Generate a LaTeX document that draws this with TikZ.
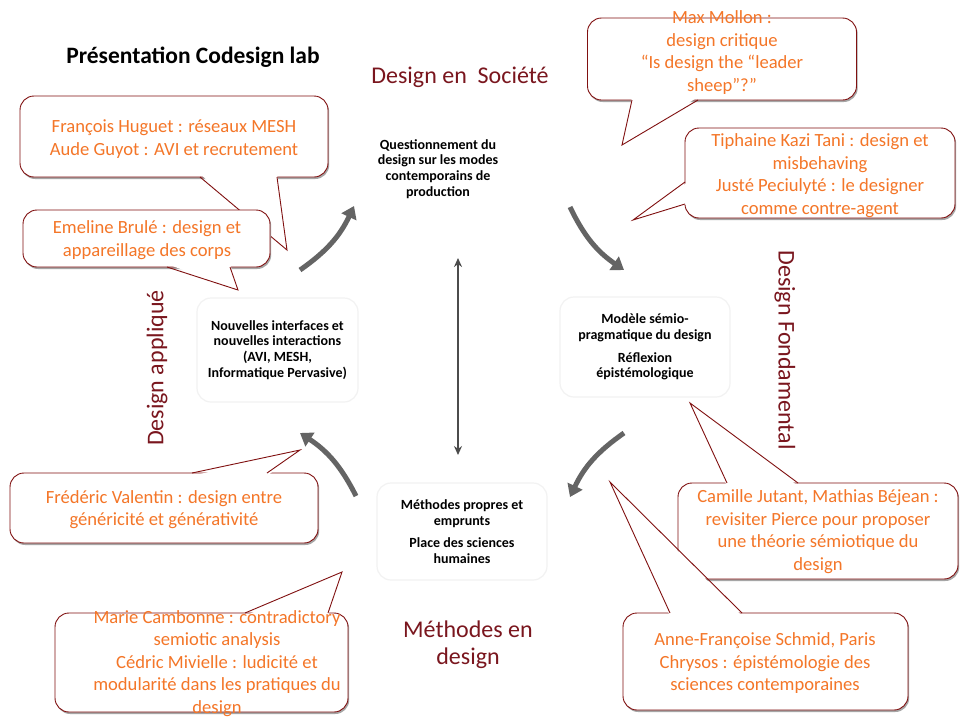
\documentclass[tikz,border=0pt]{standalone}
\usepackage{fontspec}
\setmainfont{Carlito}
\usetikzlibrary{arrows.meta,calc,positioning,shadows}
\definecolor{BubbleRed}{RGB}{128,16,16}
\definecolor{NoteOrange}{RGB}{244,118,40}
\definecolor{AxisRed}{RGB}{122,22,30}
\definecolor{CycleGray}{RGB}{100,100,100}
\tikzset{
  bubble/.style={draw=BubbleRed,fill=white,line width=.9pt,rounded corners=14pt,inner sep=0pt,
    drop shadow={shadow xshift=1.2pt,shadow yshift=-2pt,fill=gray!70,opacity=1}},
  bubbleline/.style={draw=BubbleRed,line width=.9pt,line join=miter},
  note/.style={text=NoteOrange,align=center,font=\fontsize{18.6}{22.5}\selectfont,inner sep=0pt},
  theme/.style={align=center,font=\fontsize{14}{15.7}\selectfont\bfseries,inner sep=0pt},
  themebox/.style={theme,draw=gray!10,line width=1.2pt,rounded corners=14pt},
  axislabel/.style={text=AxisRed,font=\fontsize{24}{27}\selectfont,inner sep=0pt,align=center},
  cyclearrow/.style={-{Triangle[length=12pt,width=16pt]},line width=5pt,CycleGray},
}
% tail of a bubble: base A, tip, base B, inward shift
\newcommand{\tail}[4]{\fill[white] ($#1+#4$) -- #2 -- ($#3+#4$) -- cycle; \draw[bubbleline] #1 -- #2 -- #3;}
\begin{document}
\begin{tikzpicture}[x=1pt,y=-1pt]
\fill[white] (0,0) rectangle (961,716); \useasboundingbox (0,0) rectangle (961,716);
\node[font=\fontsize{23.5}{26}\selectfont\bfseries] (title) at (193,57) {Présentation Codesign lab};
\node[axislabel] (societe) at (460,77) {Design en\ \ Société};
\node[axislabel,rotate=-90] (fondamental) at (785,350) {Design Fondamental};
\node[axislabel,rotate=90] (applique) at (157,368) {Design appliqué};
\node[axislabel] (methodesaxe) at (468,645) {Méthodes en\\design};

% themes
\node[theme] (question) at (438,169) {Questionnement du\\design sur les modes\\contemporains de\\production};
\node[themebox,minimum width=161,minimum height=104] (interfaces) at (277.5,350) {Nouvelles interfaces et\\nouvelles interactions\\(AVI, MESH,\\Informatique Pervasive)};
\node[themebox,minimum width=170,minimum height=100] (modele) at (645,347) {Modèle sémio-\\pragmatique du design\\[7pt]Réflexion\\épistémologique};
\node[themebox,minimum width=170,minimum height=97] (methodes) at (462,531.5) {Méthodes propres et\\emprunts\\[7pt]Place des sciences\\humaines};

% cycle
\coordinate (c1) at (300,270); \coordinate (c2) at (354,206);
\coordinate (c3) at (570,207); \coordinate (c4) at (624,270);
\coordinate (c5) at (624,433); \coordinate (c6) at (570,497);
\coordinate (c7) at (356,496); \coordinate (c8) at (300,433);
\draw[cyclearrow] (c1) to[bend right=15] (c2); \draw[cyclearrow] (c3) to[bend right=15] (c4);
\draw[cyclearrow] (c5) to[bend right=15] (c6); \draw[cyclearrow] (c7) to[bend right=15] (c8);
\coordinate (v1) at (458,258); \coordinate (v2) at (458,455);
\draw[{Stealth[length=9pt,width=8pt]}-{Stealth[length=9pt,width=8pt]},line width=2pt,gray!60!black] (v1) -- (v2);

% bubbles
\node[bubble,minimum width=308,minimum height=81] (huguet) at (174,136.5) {};
\coordinate (huguettip) at (287,250); \tail{(200,177)}{(huguettip)}{(277,177)}{(0,-3)}
\node[note] (huguettxt) at (174,139) {François Huguet : réseaux MESH\\Aude Guyot : AVI et recrutement};
\node[bubble,minimum width=247,minimum height=57] (brule) at (146.5,238.5) {};
\coordinate (bruletip) at (238,290); \tail{(167,267)}{(bruletip)}{(230,267)}{(0,-3)}
\node[note] (bruletxt) at (147,240) {Emeline Brulé : design et\\appareillage des corps};

\node[bubble,minimum width=269,minimum height=82] (mollon) at (722,59) {};
\coordinate (mollontip) at (622,145); \tail{(632,100)}{(mollontip)}{(698,100)}{(0,-3)}
\node[note] (mollontxt) at (722,52.5) {Max Mollon :\\design critique\\“Is design the “leader\\sheep”?”};
\node[bubble,minimum width=270,minimum height=90] (kazi) at (820,173) {};
\coordinate (kazitip) at (633,220); \tail{(685,182)}{(kazitip)}{(685,204)}{(3,0)}
\node[note] (kazitxt) at (820,175.5) {Tiphaine Kazi Tani : design et\\misbehaving\\Justé Peciulyté : le designer\\comme contre-agent};

\node[bubble,minimum width=308,minimum height=70] (valentin) at (164,508) {};
\coordinate (valentintip) at (300,450); \tail{(192,473)}{(valentintip)}{(267,473)}{(0,3)}
\node[note] (valentintxt) at (164,509.5) {Frédéric Valentin : design entre\\généricité et générativité};
\node[bubble,minimum width=293,minimum height=99] (cambonne) at (201.5,662.5) {};
\coordinate (cambonnetip) at (342,572); \tail{(245,613)}{(cambonnetip)}{(328,613)}{(0,3)}
\node[note] (cambonnetxt) at (217,663.5) {Marie Cambonne : contradictory\\semiotic analysis\\Cédric Mivielle : ludicité et\\modularité dans les pratiques du\\design};

\node[bubble,minimum width=280,minimum height=96] (jutant) at (818,531) {};
\coordinate (jutanttip) at (690,403); \tail{(727,483)}{(jutanttip)}{(798,483)}{(0,3)}
\node[note] (jutanttxt) at (818,531.5) {Camille Jutant, Mathias Béjean :\\revisiter Pierce pour proposer\\une théorie sémiotique du\\design};
\node[bubble,minimum width=285,minimum height=97] (schmid) at (765.5,661.5) {};
\coordinate (schmidtip) at (610,482); \tail{(670,613)}{(schmidtip)}{(742,613)}{(0,3)}
\node[note] (schmidtxt) at (765,663.5) {Anne-Françoise Schmid, Paris\\Chrysos : épistémologie des\\sciences contemporaines};
\end{tikzpicture}
\end{document}
